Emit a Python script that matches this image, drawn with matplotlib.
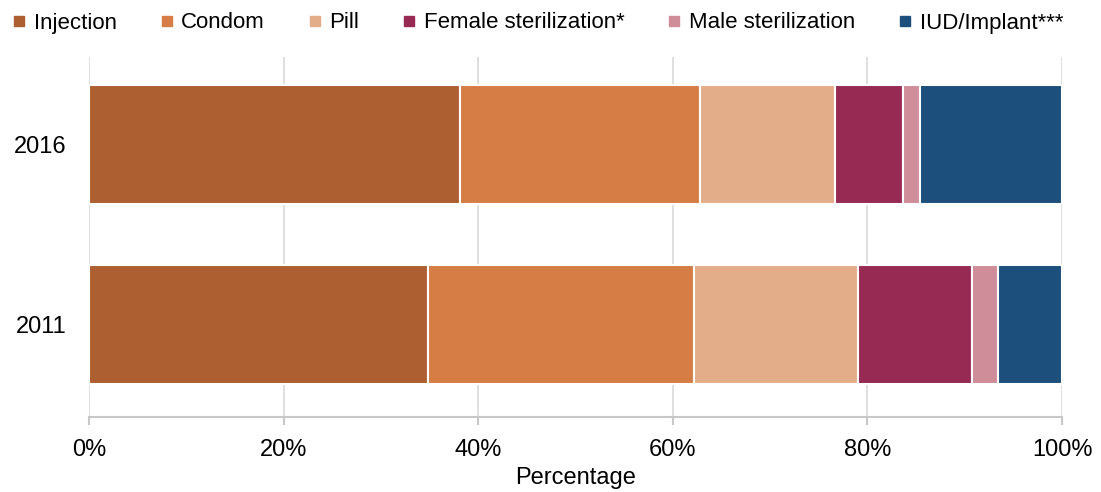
import matplotlib
matplotlib.use("Agg")
import matplotlib.pyplot as plt
from matplotlib.lines import Line2D
from matplotlib.ticker import PercentFormatter

plt.rcParams['font.family'] = ['Liberation Sans', 'DejaVu Sans']

years = ["2011", "2016"]
methods = ["Injection", "Condom", "Pill", "Female sterilization*", "Male sterilization", "IUD/Implant***"]
injection = [34.8, 38.1]
condom = [27.4, 24.7]
pill = [16.8, 13.9]
female_ster = [11.7, 7.0]
male_ster = [2.7, 1.7]
iud_implant = [6.6, 14.6]
series = [injection, condom, pill, female_ster, male_ster, iud_implant]
colors = ["#AD5F31", "#D67D45", "#E3AD89", "#962A52", "#CE8D99", "#1C4F7C"]

fig = plt.figure(figsize=(11.01, 4.92), dpi=100)
ax = fig.add_axes([89/1101, 1-417/492, (1062-89)/1101, 360/492])

left = [0.0] * len(years)
ypos = list(range(len(years)))
for vals, col in zip(series, colors):
    ax.barh(ypos, vals, left=left, height=0.66, color=col, edgecolor="white", linewidth=1.5, zorder=3)
    left = [l + v for l, v in zip(left, vals)]

ax.set_xlim(0, 100)
ax.set_ylim(-0.514, 1.486)
ax.set_yticks(ypos)
ax.set_yticklabels(years)
ax.set_xticks([0, 20, 40, 60, 80, 100])
ax.xaxis.set_major_formatter(PercentFormatter(decimals=0))
ax.tick_params(axis='y', length=0, labelsize=17, pad=16)
ax.tick_params(axis='x', length=6, width=1.5, color="#C8C8C8", labelsize=17, pad=9.5)
ax.grid(axis='x', color="#D9D9D9", linewidth=1.2, zorder=0)
for s in ["top", "right", "left"]:
    ax.spines[s].set_visible(False)
ax.spines["bottom"].set_color("#C8C8C8")
ax.spines["bottom"].set_linewidth(1.5)
ax.set_xlabel("Percentage", fontsize=17, labelpad=5)

handles = [Line2D([0], [0], marker='s', linestyle='none', markersize=7, color=c) for c in colors]
fig.legend(handles, methods, loc="center left", bbox_to_anchor=(6/1101, 1 - 23/492), ncol=6, frameon=False,
           fontsize=16, handlelength=0.6, handletextpad=0.35, columnspacing=1.95,
           borderaxespad=0, borderpad=0.3)

fig.savefig("out.png", dpi=100)
